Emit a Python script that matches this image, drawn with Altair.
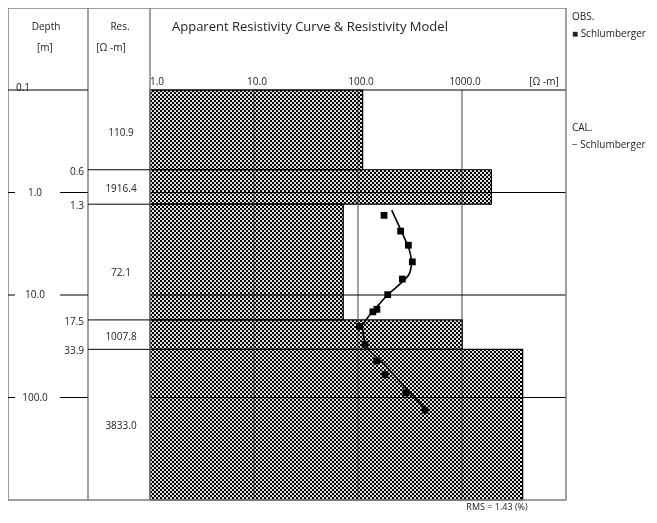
import math
import altair as alt
import pandas as pd

# ---- data ----
layer_top = [0.1, 0.6, 1.3, 17.5, 33.9]
layer_bottom = [0.6, 1.3, 17.5, 33.9, 1000.0]
layer_res = [110.9, 1916.4, 72.1, 1007.8, 3833.0]
layer_res_label = ["110.9", "1916.4", "72.1", "1007.8", "3833.0"]
layer_label_depth = [0.26, 0.92, 6.1, 25.6, 190.0]

boundary_depth = [0.6, 1.3, 17.5, 33.9]
boundary_label = ["0.6", "1.3", "17.5", "33.9"]

depth_ticks = [1.0, 10.0, 100.0]
depth_tick_labels = ["1.0", "10.0", "100.0"]

res_ticks = [1.0, 10.0, 100.0, 1000.0]
res_tick_labels = ["1.0", "10.0", "100.0", "1000.0"]

obs_ab2 = [1.67, 2.38, 3.27, 4.75, 6.99, 9.93, 13.8, 14.6, 20.3, 30.4, 44.1, 59.8, 90.0, 133.0]
obs_rho = [178, 257, 305, 333, 267, 193, 152, 139, 103, 117, 151, 182, 289, 441]

cal_ab2 = [1.485, 2.045, 2.86, 3.82, 4.81, 6.02, 7.53, 9.93, 13.7, 17.1, 19.9, 29.9, 43.8, 59.8, 89.4, 134.0]
cal_rho = [211, 244, 283, 316, 333, 316, 263, 193, 146, 121, 108, 117, 166, 220, 316, 461]

FONT = "Open Sans"
TXT = "#222222"
FRAME = "#808080"

X_RANGE = [142, 558]
Y_RANGE = [82, 492]
xs = alt.Scale(type="log", domain=[1, 10000], range=X_RANGE)
ys = alt.Scale(type="log", domain=[0.1, 1000], range=Y_RANGE)
PX_PER_DEC_X = (X_RANGE[1] - X_RANGE[0]) / 4.0
PX_PER_DEC_Y = (Y_RANGE[1] - Y_RANGE[0]) / 4.0

layers_df = pd.DataFrame({"top": layer_top, "bottom": layer_bottom, "res": layer_res,
                          "left": [1.0] * len(layer_res), "label": layer_res_label,
                          "ld": layer_label_depth})
bound_df = pd.DataFrame({"d": boundary_depth, "label": boundary_label})
dt_df = pd.DataFrame({"d": depth_ticks, "label": depth_tick_labels})
rt_df = pd.DataFrame({"r": res_ticks, "label": res_tick_labels})
obs_df = pd.DataFrame({"d": obs_ab2, "r": obs_rho})
cal_df = pd.DataFrame({"d": cal_ab2, "r": cal_rho, "i": list(range(len(cal_ab2)))})
one = pd.DataFrame({"a": [0]})

LIGHT = "#e0e0e0"
DARK = "#000000"
CLEAR = "rgba(0,0,0,0)"


def stripes(length_px, c1, c2, vertical_axis, period=2.0):
    stops = []
    pos, k = 0.0, 0
    while pos < length_px:
        c = c1 if k % 2 == 0 else c2
        a = pos / length_px
        b = min((pos + period) / length_px, 1.0)
        stops.append(alt.GradientStop(offset=a, color=c))
        stops.append(alt.GradientStop(offset=b, color=c))
        pos += period
        k += 1
    if vertical_axis:
        return alt.LinearGradient(gradient="linear", stops=stops, x1=0, x2=0, y1=0, y2=1)
    return alt.LinearGradient(gradient="linear", stops=stops, x1=0, x2=1, y1=0, y2=0)


# cross-hatched model bars (checker pattern built from two striped fills)
hatch_layers = []
for i in range(len(layer_res)):
    w_px = PX_PER_DEC_X * math.log10(layer_res[i])
    h_px = PX_PER_DEC_Y * (math.log10(layer_bottom[i]) - math.log10(layer_top[i]))
    sub = layers_df.iloc[[i]]
    base = alt.Chart(sub).mark_rect(fill=stripes(w_px, DARK, LIGHT, False), strokeWidth=0).encode(
        x=alt.X("left:Q", scale=xs, axis=None), x2="res:Q",
        y=alt.Y("top:Q", scale=ys, axis=None), y2="bottom:Q")
    over = alt.Chart(sub).mark_rect(fill=stripes(h_px, LIGHT, CLEAR, True), strokeWidth=0,
                                    blend="difference").encode(
        x=alt.X("left:Q", scale=xs, axis=None), x2="res:Q",
        y=alt.Y("top:Q", scale=ys, axis=None), y2="bottom:Q")
    hatch_layers += [base, over]

outline = alt.Chart(layers_df).mark_rect(fill=None, stroke="black", strokeWidth=1.2).encode(
    x=alt.X("left:Q", scale=xs, axis=None), x2="res:Q",
    y=alt.Y("top:Q", scale=ys, axis=None), y2="bottom:Q")

# grid lines
vgrid = alt.Chart(pd.DataFrame({"r": res_ticks[1:], "y1": [0.1] * 3, "y2": [1000.0] * 3})).mark_rule(
    color="#444444", strokeWidth=1).encode(
    x=alt.X("r:Q", scale=xs), y=alt.Y("y1:Q", scale=ys), y2="y2:Q")
hgrid = alt.Chart(pd.DataFrame({"d": depth_ticks, "x1": [1.0] * 3, "x2": [10000.0] * 3})).mark_rule(
    color="black", strokeWidth=1).encode(
    y=alt.Y("d:Q", scale=ys), x=alt.X("x1:Q", scale=xs), x2="x2:Q")
topline = alt.Chart(pd.DataFrame({"d": [0.1], "x1": [1.0], "x2": [10000.0]})).mark_rule(
    color="black", strokeWidth=1).encode(
    y=alt.Y("d:Q", scale=ys), x=alt.X("x1:Q", scale=xs), x2="x2:Q")

# calculated curve and observations
cal_line = alt.Chart(cal_df).mark_line(color="black", strokeWidth=1.6, interpolate="monotone").encode(
    x=alt.X("r:Q", scale=xs), y=alt.Y("d:Q", scale=ys), order="i:Q")
obs_pts = alt.Chart(obs_df).mark_square(color="black", size=46, opacity=1).encode(
    x=alt.X("r:Q", scale=xs), y=alt.Y("d:Q", scale=ys))

# frame
frame = alt.Chart(one).mark_rect(fill=None, stroke=FRAME, strokeWidth=1.5).encode(
    x=alt.value(0), x2=alt.value(558), y=alt.value(0), y2=alt.value(492))
sep1 = alt.Chart(one).mark_rule(color=FRAME, strokeWidth=1.5).encode(
    x=alt.value(80), y=alt.value(0), y2=alt.value(492))
sep2 = alt.Chart(one).mark_rule(color=FRAME, strokeWidth=1.5).encode(
    x=alt.value(142), y=alt.value(0), y2=alt.value(492))

# depth column
d01 = alt.Chart(pd.DataFrame({"d": [0.1]})).mark_rule(color="black").encode(
    y=alt.Y("d:Q", scale=ys), x=alt.value(0), x2=alt.value(80))
d01_lbl = alt.Chart(pd.DataFrame({"d": [0.1], "t": ["0.1"]})).mark_text(
    font=FONT, fontSize=10, color=TXT, align="center", baseline="middle", dy=-2).encode(
    y=alt.Y("d:Q", scale=ys), x=alt.value(15), text="t:N")
dtick_a = alt.Chart(dt_df).mark_rule(color="black").encode(
    y=alt.Y("d:Q", scale=ys), x=alt.value(0), x2=alt.value(7))
dtick_b = alt.Chart(dt_df).mark_rule(color="black").encode(
    y=alt.Y("d:Q", scale=ys), x=alt.value(52), x2=alt.value(80))
dtick_lbl = alt.Chart(dt_df).mark_text(font=FONT, fontSize=10, color=TXT, align="center",
                                       baseline="middle").encode(
    y=alt.Y("d:Q", scale=ys), x=alt.value(27), text="label:N")
bound_lbl = alt.Chart(bound_df).mark_text(font=FONT, fontSize=10, color=TXT, align="right",
                                          baseline="middle", dy=2).encode(
    y=alt.Y("d:Q", scale=ys), x=alt.value(76), text="label:N")

# resistivity column
bound_line = alt.Chart(bound_df).mark_rule(color="black").encode(
    y=alt.Y("d:Q", scale=ys), x=alt.value(80), x2=alt.value(142))
res_lbl = alt.Chart(layers_df).mark_text(font=FONT, fontSize=10, color=TXT, align="center",
                                         baseline="middle").encode(
    y=alt.Y("ld:Q", scale=ys), x=alt.value(113), text="label:N")

# top axis labels
xl_first = alt.Chart(rt_df.iloc[:1]).mark_text(font=FONT, fontSize=10, color=TXT, align="left",
                                               baseline="middle").encode(
    x=alt.X("r:Q", scale=xs), y=alt.value(74), text="label:N")
xl_rest = alt.Chart(rt_df.iloc[1:]).mark_text(font=FONT, fontSize=10, color=TXT, align="center",
                                              baseline="middle", dx=3).encode(
    x=alt.X("r:Q", scale=xs), y=alt.value(74), text="label:N")


def label(txt, x, y, size=10, align="left"):
    return alt.Chart(one).mark_text(font=FONT, fontSize=size, color=TXT, align=align,
                                    baseline="middle", text=txt).encode(
        x=alt.value(x), y=alt.value(y))


texts = [
    label("Depth", 38, 19, align="center"),
    label("[m]", 37, 40, align="center"),
    label("Res.", 112, 19, align="center"),
    label("[Ω -m]", 103, 40, align="center"),
    label("Apparent Resistivity Curve & Resistivity Model", 164, 19, size=13),
    label("[Ω -m]", 536, 74, align="center"),
    label("OBS.", 564, 9),
    label("■ Schlumberger", 564, 26, size=10),
    label("CAL.", 564, 120),
    label("− Schlumberger", 564, 137, size=10),
    label("RMS =  1.43 (%)", 489, 499, size=9, align="center"),
]

chart = alt.layer(
    *hatch_layers, outline, vgrid, hgrid, topline, cal_line, obs_pts,
    frame, sep1, sep2,
    d01, d01_lbl, dtick_a, dtick_b, dtick_lbl, bound_lbl,
    bound_line, res_lbl, xl_first, xl_rest,
    *texts,
).properties(
    width=641, height=507, padding=0, autosize=alt.AutoSizeParams(type="none")
).configure_view(strokeWidth=0)

chart.save("out.html", embed_options={"renderer": "svg", "actions": False})
